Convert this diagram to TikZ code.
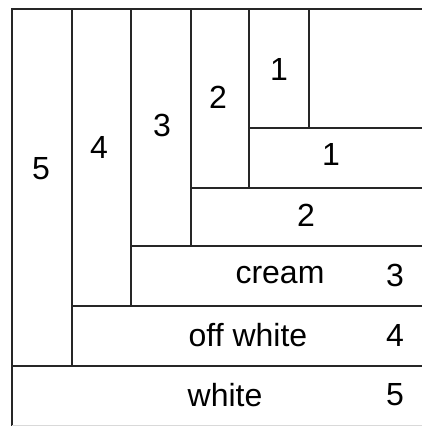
\documentclass[tikz,border=0pt]{standalone}
\usepackage{fontspec}
\setmainfont{Liberation Sans}
\begin{document}
\begin{tikzpicture}[x=1pt,y=-1pt,
  edge/.style={draw=black!85,line width=1.6pt},
  lbl/.style={inner sep=0pt,anchor=center,font=\fontsize{32}{38}\selectfont}]
\useasboundingbox (0,0) rectangle (422,426);
\fill[white] (0,0) rectangle (422,426);
% outer frame (top and left)
\draw[edge] (422,9) -- (12,9) -- (12,426);
\draw[black!15,line width=1pt] (12,425) -- (422,425);
% vertical strips
\draw[edge] (72,9) -- (72,366);
\draw[edge] (131,9) -- (131,306);
\draw[edge] (191,9) -- (191,246);
\draw[edge] (249,9) -- (249,188);
\draw[edge] (309,9) -- (309,128);
% horizontal strips
\draw[edge] (249,128) -- (422,128);
\draw[edge] (191,188) -- (422,188);
\draw[edge] (131,246) -- (422,246);
\draw[edge] (72,306) -- (422,306);
\draw[edge] (12,366) -- (422,366);
% labels
\node[lbl] (v5) at (41,169) {5};
\node[lbl] (v4) at (99,147) {4};
\node[lbl] (v3) at (162,125) {3};
\node[lbl] (v2) at (218,97) {2};
\node[lbl] (v1) at (279,69) {1};
\node[lbl] (h1) at (331,154) {1};
\node[lbl] (h2) at (306,215) {2};
\node[lbl] (hc) at (280,275) {cream};
\node[lbl] (h3) at (395,275) {3};
\node[lbl] (ho) at (248,335) {off white};
\node[lbl] (h4) at (395,335) {4};
\node[lbl] (hw) at (225,395) {white};
\node[lbl] (h5) at (395,395) {5};
\end{tikzpicture}
\end{document}
